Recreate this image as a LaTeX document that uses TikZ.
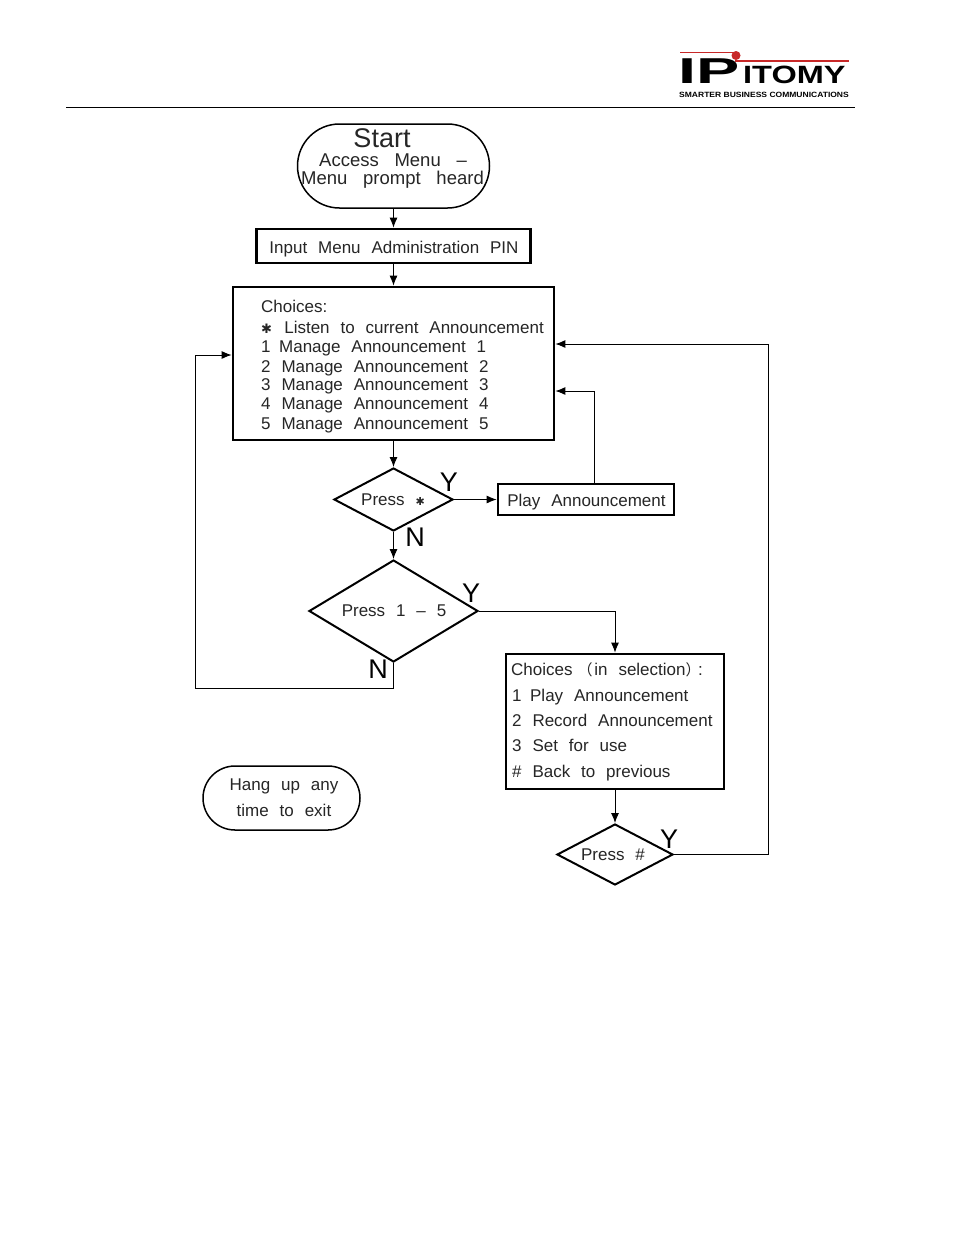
\documentclass[tikz,border=0pt]{standalone}
\usepackage{fontspec}
\setmainfont{Liberation Sans}
\newfontfamily\cjkfont{Noto Sans CJK SC}
\newfontfamily\symfont{DejaVu Sans}
\usetikzlibrary{shapes.geometric,shapes.misc,arrows.meta}
\definecolor{logored}{RGB}{200,40,40}
\newcommand{\ws}{\hspace{0.64em}}
\newcommand{\wl}{\hspace{0.85em}}
\tikzset{
  x=1pt,y=-1pt,
  boxthick/.style={draw=black,line width=2.8pt,fill=white,inner sep=0pt},
  dia/.style={diamond,draw=black,line width=2pt,fill=white,inner sep=0pt},
  stadium/.style={rounded rectangle,draw=black,line width=1.5pt,fill=white,inner sep=0pt},
  conn/.style={draw=black,line width=0.9pt,-{Latex[length=10pt,width=8pt]}},
  lab/.style={font=\fontsize{17}{20}\selectfont,inner sep=0pt,text=black!85,text height=12pt,text depth=3.5pt},
  ll/.style={lab,anchor=west},
  yn/.style={font=\fontsize{27}{30}\selectfont,inner sep=0pt},
}
\begin{document}
\begin{tikzpicture}
\useasboundingbox (0,0) rectangle (954,1235);
\fill[white] (0,0) rectangle (954,1235);
% header
\draw[black,line width=1pt] (66,107) -- (855,107);
\draw[logored,line width=1.2pt] (680,52.500) -- (733,52.500);
\draw[logored,line width=1.2pt] (735,61) -- (849,61);
\fill[logored] (736,55.500) circle (4.5);
\node[inner sep=0pt,anchor=base west,font=\bfseries\fontsize{36}{36}\selectfont] (logoip) at (678,83.500) {\scalebox{1.8}[1]{IP}};
\node[inner sep=0pt,anchor=base west,font=\bfseries\fontsize{25}{25}\selectfont] (logotm) at (743,83.500) {\scalebox{1.3}[1]{ITOMY}};
\node[inner sep=0pt,anchor=base west,font=\bfseries\fontsize{7.6}{8}\selectfont] (logotag) at (679,97) {\scalebox{1.12}[1]{SMARTER BUSINESS COMMUNICATIONS}};
% shapes
\node[stadium,minimum width=192,minimum height=84] (start) at (393.500,166) {};
\node[boxthick,minimum width=274,minimum height=34] (pin) at (393.500,246) {};
\node[boxthick,minimum width=321,minimum height=153] (menu) at (393.500,363.500) {};
\node[dia,minimum width=119,minimum height=63,aspect=1.9] (d1) at (393.500,499.500) {};
\node[boxthick,minimum width=176,minimum height=31] (play) at (586,499.500) {};
\node[dia,minimum width=169,minimum height=102,aspect=1.66] (d2) at (393.500,611) {};
\node[boxthick,minimum width=218,minimum height=135] (sel) at (615,721.500) {};
\node[dia,minimum width=116,minimum height=61,aspect=1.9] (d3) at (615,854.500) {};
\node[stadium,minimum width=157,minimum height=64] (hang) at (281.500,798) {};
% start text
\node[lab,font=\fontsize{27}{30}\selectfont,text height=19pt,text depth=0pt] (t0) at (382,138) {Start};
\node[lab,font=\fontsize{18.5}{20}\selectfont] (t1) at (393,162.500) {Access\wl Menu\wl –};
\node[lab,font=\fontsize{18.5}{20}\selectfont] (t2) at (392.500,180.500) {Menu\wl prompt\wl heard};
\node[lab] (tp) at (394,249.500) {Input\ws Menu\ws Administration\ws PIN};
% menu text
\node[ll] (m0) at (261,308.500) {Choices:};
\node[ll] (m1) at (261,329) {{\symfont\fontsize{13}{15}\selectfont ✱}\hspace{0.72em}Listen\ws to\ws current\ws Announcement};
\node[ll] (m2) at (261,348.500) {1\hspace{0.5em}Manage\ws Announcement\ws 1};
\node[ll] (m3) at (261,368) {2\ws Manage\ws Announcement\ws 2};
\node[ll] (m4) at (261,386.500) {3\ws Manage\ws Announcement\ws 3};
\node[ll] (m5) at (261,405.500) {4\ws Manage\ws Announcement\ws 4};
\node[ll] (m6) at (261,425.500) {5\ws Manage\ws Announcement\ws 5};
% diamonds text
\node[ll] (td1) at (361,501.500) {Press\ws {\symfont\fontsize{11}{13}\selectfont ✱}};
\node[lab] (tplay) at (586.500,502.500) {Play\ws Announcement};
\node[lab] (td2) at (394,612) {Press\ws 1\ws –\ws 5};
\node[ll] (s0) at (511,671.500) {Choices\hspace{0.3em}{\cjkfont\fontsize{15}{18}\selectfont （}\hspace{0.1em}in\ws selection{\cjkfont\fontsize{15}{18}\selectfont ）}\hspace{-0.15em}:};
\node[ll] (s1) at (512,697) {1\hspace{0.5em}Play\ws Announcement};
\node[ll] (s2) at (512,722.500) {2\ws Record\ws Announcement};
\node[ll] (s3) at (512,747) {3\ws Set\ws for\ws use};
\node[ll] (s4) at (512,773.500) {\#\ws Back\ws to\ws previous};
\node[lab] (td3) at (613,856.500) {Press\ws \#};
\node[lab] (h1) at (284,786) {Hang\ws up\ws any};
\node[lab] (h2) at (284,812) {time\ws to\ws exit};
% Y / N
\node[yn] (y1) at (449,482) {Y};
\node[yn] (n1) at (415,537) {N};
\node[yn] (y2) at (471,593) {Y};
\node[yn] (n2) at (378,669) {N};
\node[yn] (y3) at (669,839) {Y};
% connectors
\coordinate (ret1a) at (393.500,688);
\coordinate (ret1b) at (195,688);
\coordinate (ret1c) at (195,355);
\coordinate (menuL) at (menu.west |- ret1c);
\coordinate (ret2) at (594,391);
\coordinate (menuR2) at (menu.east |- ret2);
\coordinate (ret3a) at (768,854.500);
\coordinate (ret3b) at (768,344);
\coordinate (menuR3) at (menu.east |- ret3b);
\coordinate (playtop) at (play.north -| ret2);
\draw[conn] (start.south) -- (pin.north);
\draw[conn] (pin.south) -- (menu.north);
\draw[conn] (menu.south) -- (d1.north);
\draw[conn] (d1.east) -- (play.west);
\draw[conn] (d1.south) -- (d2.north);
\draw[conn] (playtop) -- (ret2) -- (menuR2);
\draw[conn] (d2.east) -| (sel.north);
\draw[conn] (d2.south) -- (ret1a) -- (ret1b) -- (ret1c) -- (menuL);
\draw[conn] (sel.south) -- (d3.north);
\draw[conn] (d3.east) -- (ret3a) -- (ret3b) -- (menuR3);
\end{tikzpicture}
\end{document}
